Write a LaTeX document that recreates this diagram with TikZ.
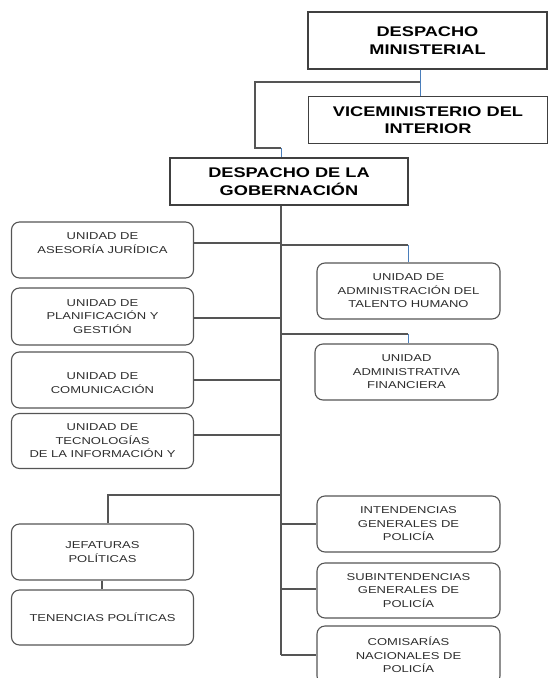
\documentclass[tikz,border=0pt]{standalone}
\usepackage{fontspec}
\setmainfont{Liberation Sans}
\newfontfamily\cajafont[FakeStretch=1.3]{Liberation Sans}

\definecolor{gris}{HTML}{555555}
\definecolor{azul}{HTML}{4A7EBB}
\definecolor{texto}{HTML}{2E2E2E}

\tikzset{
  jefe/.style={draw=black!75, line width=1.3pt, minimum width=239pt, align=center,
    font=\cajafont\bfseries\fontsize{14}{17.5}\selectfont},
  unidad/.style={draw=gris, rounded corners=8pt, line width=1.1pt, minimum width=182pt,
    minimum height=56pt, align=center, text=texto, font=\cajafont\fontsize{10}{13.5}\selectfont},
  linea/.style={draw=gris, line width=1.3pt},
  enlace/.style={draw=azul, line width=1pt}
}

\begin{document}
\begin{tikzpicture}[x=1pt,y=-1pt]
\useasboundingbox (0,0) rectangle (548,678);
\clip (0,0) rectangle (548,678);
% despachos
\node[jefe, minimum height=57pt] (ministerial) at (427.5,40.5) {DESPACHO\\MINISTERIAL};
\node[jefe, minimum height=47pt] (vice) at (428,120) {VICEMINISTERIO DEL\\INTERIOR};
\node[jefe, minimum height=47pt, minimum width=238pt] (gobernacion) at (289,181.5) {DESPACHO DE LA\\GOBERNACIÓN};
% unidades a la izquierda
\node[unidad] (asesoria) at (102.5,250) {UNIDAD DE\\ASESORÍA JURÍDICA\\\mbox{}};
\node[unidad, minimum height=57pt] (planificacion) at (102.5,316.5) {UNIDAD DE\\PLANIFICACIÓN Y\\GESTIÓN};
\node[unidad] (comunicacion) at (102.5,380) {\mbox{}\\UNIDAD DE\\COMUNICACIÓN};
\node[unidad, minimum height=55pt] (tecnologias) at (102.5,441) {UNIDAD DE\\TECNOLOGÍAS\\DE LA INFORMACIÓN Y};
\node[unidad] (jefaturas) at (102.5,552) {JEFATURAS\\POLÍTICAS};
\node[unidad, minimum height=55pt] (tenencias) at (102.5,617.5) {TENENCIAS POLÍTICAS};
% unidades a la derecha
\node[unidad, minimum width=183pt] (talento) at (408.5,291) {UNIDAD DE\\ADMINISTRACIÓN DEL\\TALENTO HUMANO};
\node[unidad, minimum width=183pt] (financiera) at (406.5,372) {UNIDAD\\ADMINISTRATIVA\\FINANCIERA};
\node[unidad, minimum width=183pt] (intendencias) at (408.5,524) {INTENDENCIAS\\GENERALES DE\\POLICÍA};
\node[unidad, minimum width=183pt, minimum height=55pt] (subintendencias) at (408.5,590.5) {SUBINTENDENCIAS\\GENERALES DE\\POLICÍA};
\node[unidad, minimum width=183pt, minimum height=58pt] (comisarias) at (408.5,655) {COMISARÍAS\\NACIONALES DE\\POLICÍA};

% puntos de union
\coordinate (eje) at (281,0);
\coordinate (ramal) at (420,82);
\coordinate (codo) at (281,148);
\coordinate (aj) at ([yshift=7pt]asesoria.east);
\coordinate (pg) at ([yshift=-1.5pt]planificacion.east);
\coordinate (te) at ([yshift=6pt]tecnologias.east);
\coordinate (th) at (408,245);
\coordinate (af) at (408,334);
\coordinate (sg) at ([yshift=1.5pt]subintendencias.west);
\coordinate (jp) at (108,495);
\coordinate (tp) at ([xshift=-0.5pt]tenencias.north);

% lineas de arriba
\draw[enlace] (ministerial.south -| ramal) -- (vice.north -| ramal);
\draw[linea] (ramal) -| (255,148) -- (codo);
\draw[enlace] (codo) -- (gobernacion.north -| codo);
% eje central
\draw[linea] (gobernacion.south -| eje) -- (eje |- comisarias.west);
\draw[linea] (aj) -- (aj -| eje);
\draw[linea] (pg) -- (pg -| eje);
\draw[linea] (comunicacion.east) -- (comunicacion.east -| eje);
\draw[linea] (te) -- (te -| eje);
\draw[linea] (th -| eje) -- (th);
\draw[enlace] (th) -- (talento.north -| th);
\draw[linea] (af -| eje) -- (af);
\draw[enlace] (af) -- (financiera.north -| af);
\draw[linea] (eje |- intendencias.west) -- (intendencias.west);
\draw[linea] (sg -| eje) -- (sg);
\draw[linea] (eje |- comisarias.west) -- (comisarias.west);
\draw[linea] (jp -| eje) -- (jp) -- (jefaturas.north -| jp);
\draw[linea] (jefaturas.south -| tp) -- (tp);
\end{tikzpicture}
\end{document}
